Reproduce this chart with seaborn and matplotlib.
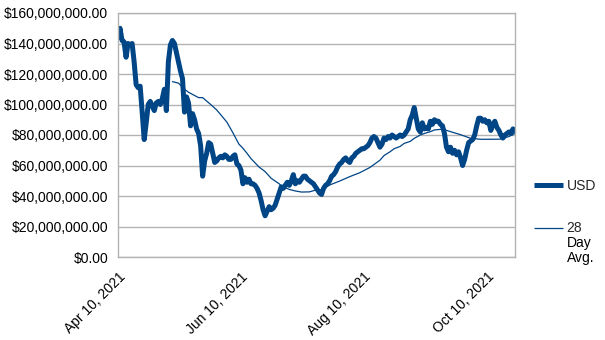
import numpy as np
import pandas as pd
import matplotlib
matplotlib.use("Agg")
import matplotlib.pyplot as plt
from matplotlib.ticker import FuncFormatter, MultipleLocator
import seaborn as sns

# ---- data ----
start_date = "2021-04-10"
usd_millions = [
    144, 150, 142, 141, 131, 140, 139, 140, 128, 113,
    111, 112, 95, 77, 88, 100, 102, 99, 96, 101,
    102, 100, 104, 110, 96, 128, 139, 142, 140, 134,
    128, 122, 117, 95, 105, 101, 86, 94, 90, 84,
    81, 73, 53, 63, 68, 75, 74, 68, 62, 63,
    65, 66, 65, 67, 66, 64, 64, 66, 67, 61,
    60, 57, 48, 52, 49, 51, 48, 48, 47, 45,
    42, 37, 31, 27, 30, 33, 31, 32, 34, 38,
    42, 46, 45, 47, 49, 47, 50, 54, 48, 50,
    49, 51, 53, 53, 51, 50, 49, 48, 46, 44,
    42, 41, 45, 47, 48, 50, 53, 54, 56, 59,
    61, 62, 64, 65, 63, 62, 65, 66, 68, 69,
    70, 71, 71, 72, 73, 75, 78, 79, 78, 75,
    72, 74, 78, 77, 79, 78, 80, 79, 78, 79,
    80, 79, 80, 82, 84, 90, 93, 98, 91, 84,
    82, 88, 84, 85, 84, 89, 87, 90, 89, 89,
    87, 86, 81, 72, 69, 72, 68, 70, 67, 69,
    65, 60, 64, 70, 75, 76, 77, 80, 86, 91,
    91, 89, 90, 88, 89, 83, 87, 89, 85, 83,
    80, 78, 80, 81, 82, 81, 84, 83,
]

avg_dates = [
    "2021-05-07", "2021-05-10", "2021-05-13", "2021-05-15", "2021-05-20",
    "2021-05-22", "2021-05-26", "2021-05-29", "2021-06-03", "2021-06-06",
    "2021-06-09", "2021-06-11", "2021-06-13", "2021-06-15", "2021-06-19",
    "2021-06-22", "2021-06-25", "2021-06-29", "2021-06-30", "2021-07-04",
    "2021-07-07", "2021-07-10", "2021-07-14", "2021-07-17", "2021-07-20",
    "2021-07-24", "2021-07-29", "2021-08-03", "2021-08-08", "2021-08-13",
    "2021-08-18", "2021-08-20", "2021-08-23", "2021-08-25", "2021-08-28",
    "2021-08-30", "2021-09-02", "2021-09-04", "2021-09-07", "2021-09-09",
    "2021-09-12", "2021-09-14", "2021-09-17", "2021-09-19", "2021-09-22",
    "2021-09-27", "2021-10-02", "2021-10-07", "2021-10-12", "2021-10-17",
    "2021-10-21", "2021-10-24",
]
avg_millions = [
    115, 114, 110, 108, 104.5,
    104.5, 100, 96.4, 88.5, 81.5,
    74, 71.3, 68, 64.5, 59,
    56, 51.6, 48, 46.6, 44.3,
    43.3, 42.6, 42.7, 43.9, 44,
    47.2, 49.8, 52.7, 55.3, 58.7,
    63.5, 66.5, 69, 71, 72.5,
    74.5, 75.8, 77.8, 80, 81,
    82.2, 83.3, 83.7, 83.5, 82.2,
    80.2, 77.8, 77.2, 77.2, 77.3,
    79, 81,
]

x_tick_dates = ["2021-04-10", "2021-06-10", "2021-08-10", "2021-10-10"]
x_tick_labels = ["Apr 10, 2021", "Jun 10, 2021", "Aug 10, 2021", "Oct 10, 2021"]
series_labels = ["USD", "28", "Day\nAvg."]   # second label wraps over three lines

# ---- frames ----
usd_df = pd.DataFrame({
    "date": pd.date_range(start_date, periods=len(usd_millions), freq="D"),
    "value": np.array(usd_millions, dtype=float) * 1e6,
})
avg_df = pd.DataFrame({
    "date": pd.to_datetime(avg_dates),
    "value": np.array(avg_millions, dtype=float) * 1e6,
})

# ---- style ----
sns.set_style("white")
plt.rcParams["font.family"] = ["Liberation Sans", "DejaVu Sans"]
color = "#004586"
grid_col = "#b3b3b3"

fig = plt.figure(figsize=(6.05, 3.40), dpi=100)
ax = fig.add_axes([118 / 605, 1 - 257 / 340, (515 - 118) / 605, (257 - 13) / 340])

sns.lineplot(data=usd_df, x="date", y="value", ax=ax, color=color,
             linewidth=3.6, label=series_labels[0])
sns.lineplot(data=avg_df, x="date", y="value", ax=ax, color=color,
             linewidth=0.9, label=series_labels[1])

ax.set_ylim(0, 160e6)
ax.set_xlim(usd_df["date"].iloc[0], usd_df["date"].iloc[-1])
ax.yaxis.set_major_locator(MultipleLocator(20e6))
ax.yaxis.set_major_formatter(FuncFormatter(lambda v, p: f"${v:,.2f}"))
ax.set_xticks(pd.to_datetime(x_tick_dates))
ax.set_xticklabels(x_tick_labels, rotation=45, ha="right", rotation_mode="anchor")
ax.set_xlabel("")
ax.set_ylabel("")

ax.grid(axis="y", color=grid_col, linewidth=1.0)
ax.grid(axis="x", visible=False)
ax.set_axisbelow(True)
for s in ax.spines.values():
    s.set_visible(True)
    s.set_color(grid_col)
    s.set_linewidth(1.0)
ax.tick_params(axis="both", which="major", direction="out", color=grid_col,
               length=5, width=1.0, labelsize=10, labelcolor="black", pad=2)
ax.tick_params(axis="x", pad=4)

leg = ax.legend(loc="upper left", bbox_to_anchor=(534 / 605, 1 - 179 / 340),
                bbox_transform=fig.transFigure, frameon=False, fontsize=10,
                handlelength=2.1, handletextpad=0.25, labelspacing=2.05,
                borderpad=0, borderaxespad=0)
for h in leg.get_lines():
    h.set_solid_capstyle("butt")

# continuation of the wrapped "28 Day Avg." legend label
fig.canvas.draw()
renderer = fig.canvas.get_renderer()
bb = leg.get_texts()[1].get_window_extent(renderer)
x0, y0 = fig.transFigure.inverted().transform((bb.x0, bb.y0))
fig.text(x0, y0 - 0.5 / 340, series_labels[2], ha="left", va="top", fontsize=10,
         linespacing=1.1, color="black")

fig.savefig("out.png", dpi=100, facecolor="white")
